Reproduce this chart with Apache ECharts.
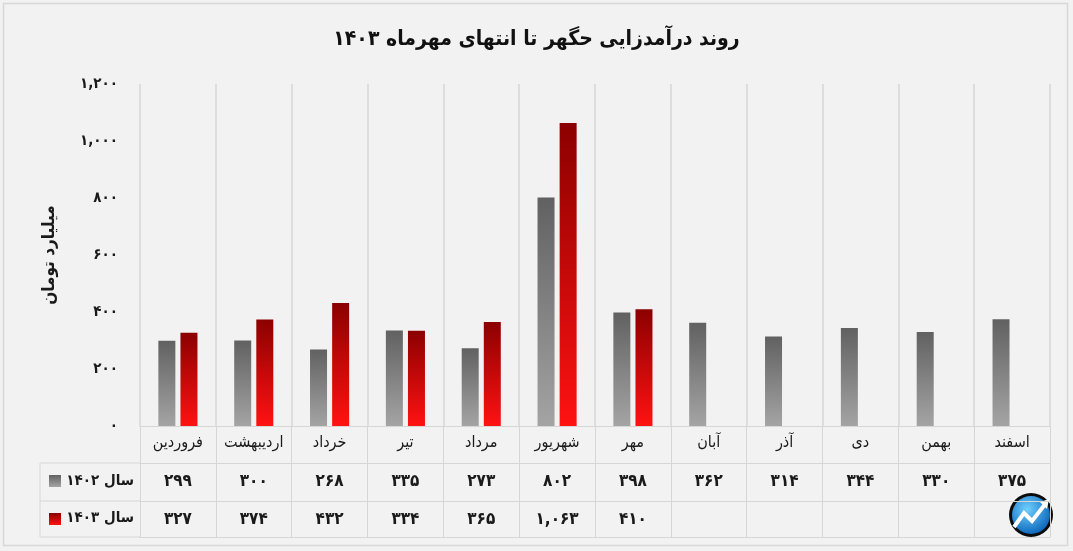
<!DOCTYPE html>
<html>
<head>
<meta charset="utf-8">
<script src="https://cdn.jsdelivr.net/npm/echarts@6/dist/echarts.min.js"></script>
<style>
html,body{margin:0;padding:0;background:#f2f2f2;}
#c{width:1073px;height:551px;}
</style>
</head>
<body>
<div id="c"></div>
<script>
// ---- data ----
var titleText = 'روند درآمدزایی حگهر تا انتهای مهرماه ۱۴۰۳';
var yAxisName = 'میلیارد تومان';
var categories = ['فروردین','اردیبهشت','خرداد','تیر','مرداد','شهریور','مهر','آبان','آذر','دی','بهمن','اسفند'];
var seriesNames = ['سال ۱۴۰۲','سال ۱۴۰۳'];
var values1402 = [299,300,268,335,273,802,398,362,314,344,330,375];
var values1403 = [327,374,432,334,365,1063,410];
var yTicks = [0,200,400,600,800,1000,1200];

function fa(n){
  if(n===undefined||n===null||n==='') return '';
  var s = Number(n).toLocaleString('en-US');
  return s.replace(/[0-9]/g,function(d){return '۰۱۲۳۴۵۶۷۸۹'[+d];});
}

var FONT = '"DejaVu Sans Condensed", "DejaVu Sans", sans-serif';
var LINE = '#d6d6d6';
var grayGrad = {type:'linear',x:0,y:0,x2:0,y2:1,colorStops:[{offset:0,color:'#616161'},{offset:1,color:'#a4a4a4'}]};
var redGrad = {type:'linear',x:0,y:0,x2:0,y2:1,colorStops:[{offset:0,color:'#8c0000'},{offset:1,color:'#ff1212'}]};

var chart = echarts.init(document.getElementById('c'), null, {renderer:'canvas'});

var row1403 = categories.map(function(c,i){return fa(values1403[i]);});
var row1402 = categories.map(function(c,i){return fa(values1402[i]);});

var option = {
  backgroundColor:'#f2f2f2',
  animation:false,
  textStyle:{fontFamily:FONT},
  title:{
    text:titleText, left:'center', top:24,
    textStyle:{fontFamily:FONT,fontSize:21,fontWeight:'bold',color:'#111'}
  },
  grid:{left:140,right:23,top:84,bottom:125,containLabel:false},
  xAxis:[
    {
      type:'category', data:categories, position:'bottom',
      axisLine:{show:true,lineStyle:{color:LINE,width:1}},
      axisTick:{show:true,interval:0,length:111,lineStyle:{color:LINE,width:1}},
      axisLabel:{interval:0,margin:9,fontSize:16,color:'#1a1a1a',fontFamily:FONT},
      splitLine:{show:true,interval:0,lineStyle:{color:LINE,width:1.5}}
    },
    {
      type:'category', data:row1402, position:'bottom', offset:37,
      axisLine:{show:true,lineStyle:{color:LINE,width:1}},
      axisTick:{show:false},
      axisLabel:{interval:0,margin:10,fontSize:17,fontWeight:'bold',color:'#1a1a1a',fontFamily:FONT},
      splitLine:{show:false}
    },
    {
      type:'category', data:row1403, position:'bottom', offset:75,
      axisLine:{show:true,lineStyle:{color:LINE,width:1}},
      axisTick:{show:false},
      axisLabel:{interval:0,margin:10,fontSize:17,fontWeight:'bold',color:'#1a1a1a',fontFamily:FONT},
      splitLine:{show:false}
    },
    {
      type:'category', data:categories, position:'bottom', offset:111,
      axisLine:{show:true,lineStyle:{color:LINE,width:1}},
      axisTick:{show:false},
      axisLabel:{show:false},
      splitLine:{show:false}
    }
  ],
  yAxis:{
    type:'value', min:yTicks[0], max:yTicks[yTicks.length-1], interval:yTicks[1]-yTicks[0],
    name:yAxisName, nameLocation:'middle', nameRotate:90, nameGap:82,
    nameTextStyle:{fontFamily:FONT,fontSize:17,fontWeight:'bold',color:'#1a1a1a'},
    axisLine:{show:false}, axisTick:{show:false},
    splitLine:{show:false},
    axisLabel:{margin:22,fontSize:15,fontWeight:'bold',color:'#1a1a1a',fontFamily:FONT,
      formatter:function(v){return fa(v);}}
  },
  series:[
    {name:seriesNames[0], type:'bar', data:values1402, barWidth:17, barGap:'30%',
      itemStyle:{color:grayGrad}},
    {name:seriesNames[1], type:'bar', data:values1403, barWidth:17, barGap:'30%',
      itemStyle:{color:redGrad}}
  ],
  graphic:[
    {type:'rect', shape:{x:3.5,y:3.5,width:1064,height:542}, style:{fill:null,stroke:'#d8d8d8',lineWidth:1.5}, z:-1},
    {type:'line', shape:{x1:40,y1:463,x2:140,y2:463}, style:{stroke:LINE,lineWidth:1}},
    {type:'line', shape:{x1:40,y1:501,x2:140,y2:501}, style:{stroke:LINE,lineWidth:1}},
    {type:'line', shape:{x1:40,y1:537,x2:140,y2:537}, style:{stroke:LINE,lineWidth:1}},
    {type:'line', shape:{x1:40,y1:463,x2:40,y2:537}, style:{stroke:LINE,lineWidth:1}},
    {type:'rect', shape:{x:49,y:475,width:12,height:12}, style:{fill:grayGrad}},
    {type:'rect', shape:{x:49,y:513,width:12,height:12}, style:{fill:redGrad}},
    {type:'text', x:134, y:481, style:{text:seriesNames[0],align:'right',verticalAlign:'middle',font:'bold 15px '+FONT,fill:'#1a1a1a'}},
    {type:'text', x:134, y:518, style:{text:seriesNames[1],align:'right',verticalAlign:'middle',font:'bold 15px '+FONT,fill:'#1a1a1a'}},
    {type:'circle', shape:{cx:1031,cy:515,r:22}, style:{fill:'#0c0c0c'}},
    {type:'circle', shape:{cx:1031,cy:515,r:19}, style:{fill:{type:'radial',x:0.4,y:0.35,r:0.7,colorStops:[{offset:0,color:'#6fd0ff'},{offset:1,color:'#0a63b8'}]}}},
    {type:'polyline', shape:{points:[[1014,527],[1024,513],[1032,521],[1046,503]]}, style:{stroke:'#fff',lineWidth:4,fill:null}},
    {type:'polygon', shape:{points:[[1049,499],[1040,502],[1047,509]]}, style:{fill:'#fff'}}
  ]
};
chart.setOption(option);
</script>
</body>
</html>
